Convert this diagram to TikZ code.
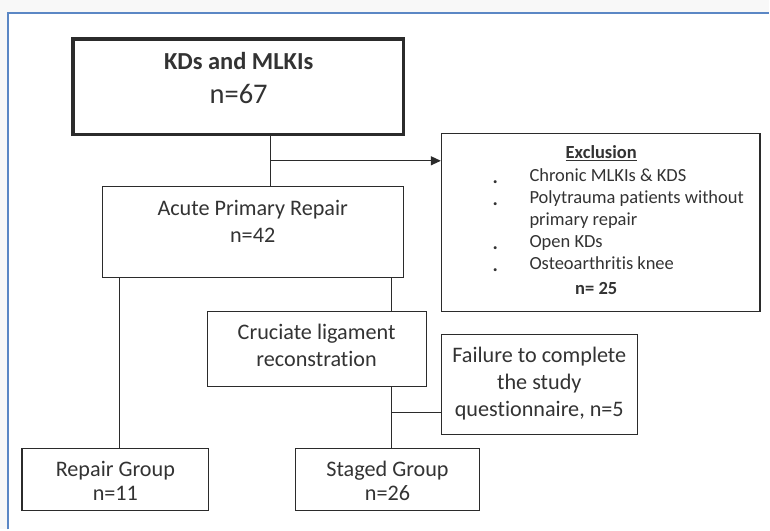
\documentclass[tikz,border=0pt]{standalone}
\usepackage{fontspec}
\setmainfont{Carlito}[Ligatures={NoCommon}]
\usetikzlibrary{arrows.meta}
\definecolor{framec}{HTML}{5B87C5}
\definecolor{inkc}{HTML}{2B2B2B}
\definecolor{txtc}{HTML}{333333}
\definecolor{bgc}{HTML}{F8F8F8}
\begin{document}
\begin{tikzpicture}[x=1pt,y=-1pt,
  box/.style={draw=inkc, line width=1.2pt, rectangle, inner sep=0pt},
  txt/.style={text=txtc, anchor=base, inner sep=0pt, font=\fontsize{22.2}{26}\selectfont},
  stxt/.style={text=txtc, anchor=base west, inner sep=0pt, font=\fontsize{18.5}{22}\selectfont},
  conn/.style={draw=inkc, line width=1.2pt}]
\fill[bgc] (0,0) rectangle (770,530);
\fill[white] (8,13) rectangle (770,530);
\draw[framec, line width=2pt] (8,530) -- (8,13) -- (770,13);
\useasboundingbox (0,0) rectangle (770,530);

% boxes
\node[box, line width=3.2pt, minimum width=331pt, minimum height=96pt] (top) at (238.5,87) {};
\node[box, minimum width=301pt, minimum height=91pt] (acute) at (253.5,232.5) {};
\node[box, minimum width=319pt, minimum height=178pt] (excl) at (601.5,223) {};
\node[box, minimum width=219pt, minimum height=75pt] (cruc) at (317.5,349.5) {};
\node[box, minimum width=196pt, minimum height=100pt] (fail) at (540,385) {};
\node[box, minimum width=187pt, minimum height=62pt] (repair) at (115.5,480) {};
\node[box, minimum width=184pt, minimum height=62pt] (staged) at (388,480) {};

% texts
\node[txt, font=\bfseries\fontsize{24.5}{28}\selectfont] (t1) at (239,70) {KDs and MLKIs};
\node[txt, font=\fontsize{28.5}{32}\selectfont] (t2) at (239,104) {n=67};
\node[txt] (a1) at (253,216) {Acute Primary Repair};
\node[txt] (a2) at (253,243) {n=42};
\node[txt] (c1) at (317,340) {Cruciate ligament};
\node[txt] (c2) at (317,367) {reconstration};
\node[txt] (f1) at (540,363) {Failure to complete};
\node[txt] (f2) at (540,390) {the study};
\node[txt] (f3) at (540,417) {questionnaire, n=5};
\node[txt] (r1) at (115.5,477) {Repair Group};
\node[txt] (r2) at (115.5,501) {n=11};
\node[txt] (s1) at (388,477) {Staged Group};
\node[txt] (s2) at (388,501) {n=26};

\node[stxt, anchor=base, font=\bfseries\fontsize{18.5}{22}\selectfont] (e0) at (602,159) {\underline{Exclusion}};
\node[stxt] (e1) at (530,182) {Chronic MLKIs \& KDS};
\node[stxt] (e2) at (530,204) {Polytrauma patients without};
\node[stxt] (e3) at (530,226) {primary repair};
\node[stxt] (e4) at (530,248) {Open KDs};
\node[stxt] (e5) at (530,270) {Osteoarthritis knee};
\node[stxt, anchor=base, font=\bfseries\fontsize{18.5}{22}\selectfont] (e6) at (597,295) {n= 25};
\foreach \yy/\nm in {184/b1,206/b2,250/b4,272/b5}
  \node[stxt, anchor=base, font=\bfseries\fontsize{20}{22}\selectfont] (\nm) at (496,\yy) {.};

% connector anchors
\coordinate (xa) at (271,0);
\coordinate (xl) at (120,0);
\coordinate (xr) at (392,0);
\coordinate (ya) at (0,161);
\coordinate (yf) at (0,413);

\draw[conn] (top.south -| xa) -- (acute.north -| xa);
\draw[conn, -{Triangle[length=10pt,width=9pt]}] (xa |- ya) -- (excl.west |- ya);
\draw[conn] (acute.south -| xl) -- (repair.north -| xl);
\draw[conn] (acute.south -| xr) -- (cruc.north -| xr);
\draw[conn] (cruc.south -| xr) -- (staged.north -| xr);
\draw[conn] (xr |- yf) -- (fail.west |- yf);
\end{tikzpicture}
\end{document}
